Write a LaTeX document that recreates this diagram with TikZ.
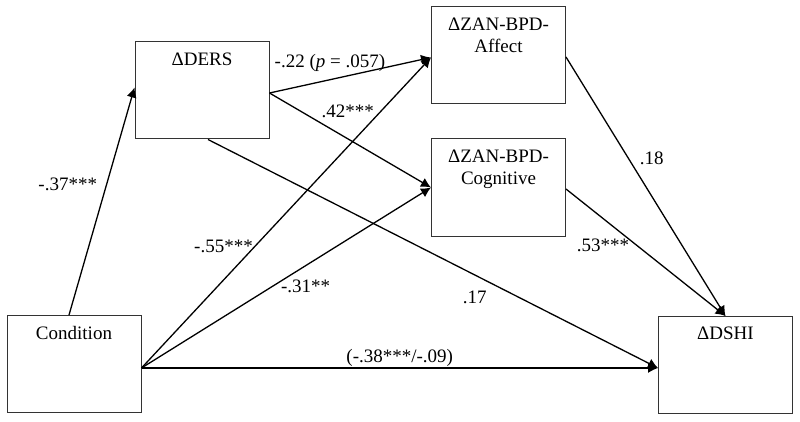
\documentclass[tikz,border=0pt]{standalone}
\usepackage{fontspec}
\setmainfont{Liberation Serif}
\usetikzlibrary{arrows.meta}

\begin{document}
\begin{tikzpicture}[x=1pt,y=-1pt,>={Latex[length=10pt,width=10pt]},font=\fontsize{19}{22}\selectfont,
  var/.style={draw=black!80, line width=1pt, minimum width=134pt, minimum height=97pt},
  title/.style={anchor=north, yshift=-11pt, inner sep=0pt, align=center},
  path/.style={->, line width=1.3pt},
  coef/.style={inner sep=1pt}]
    \useasboundingbox (0,0) rectangle (800,422);
    \node [var, label={[title]north:ΔDERS}] (ders) at (202,90.5) {};
    \node [var, label={[title]north:{ΔZAN-BPD-\\Affect}}] (aff) at (498.5,55.5) {};
    \node [var, label={[title]north:{ΔZAN-BPD-\\Cognitive}}] (cog) at (498.5,187.5) {};
    \node [var, label={[title]north:Condition}] (cond) at (74,364) {};
    \node [var, label={[title]north:ΔDSHI}] (dshi) at (725.5,365) {};
    % entry points a little off the mid anchors, as in the figure
    \coordinate (dshi-in) at ([yshift=-3pt]dshi.west);
    \coordinate (cond-out) at ([yshift=-4pt]cond.east);
    \draw[path] ([xshift=-5pt]cond.north) -- node[coef, pos=0.575, left=8pt] {-.37***} ([yshift=3pt]ders.west);
    \draw[path] ([yshift=-2.5pt]ders.east) -- node[coef, pos=0.374, above=7pt] {-.22 (\textit{p} = .057)} ([yshift=-2pt]aff.west);
    \draw[path] ([yshift=-2.5pt]ders.east) -- node[coef, pos=0.485, above=19pt] {.42***} (cog.west);
    \draw[path] ([xshift=6pt]ders.south) -- node[coef, pos=0.593, below=14pt] {.17} (dshi-in);
    \draw[path] (cond-out) -- node[coef, pos=0.39, left=0pt] {-.55***} ([yshift=-2pt]aff.west);
    \draw[path] (cond-out) -- node[coef, pos=0.567, below=13pt] {-.31**} (cog.west);
    \draw[path] (cond-out) -- node[coef, midway, above=0pt] {(-.38***/-.09)} (dshi-in);
    \draw[path] ([yshift=-1.5pt]aff.east) -- node[coef, pos=0.39, right=10pt] {.18} (dshi.north);
    \draw[path] ([yshift=-1.5pt]cog.east) -- node[coef, pos=0.444, left=6pt] {.53***} (dshi.north);
\end{tikzpicture}
\end{document}
